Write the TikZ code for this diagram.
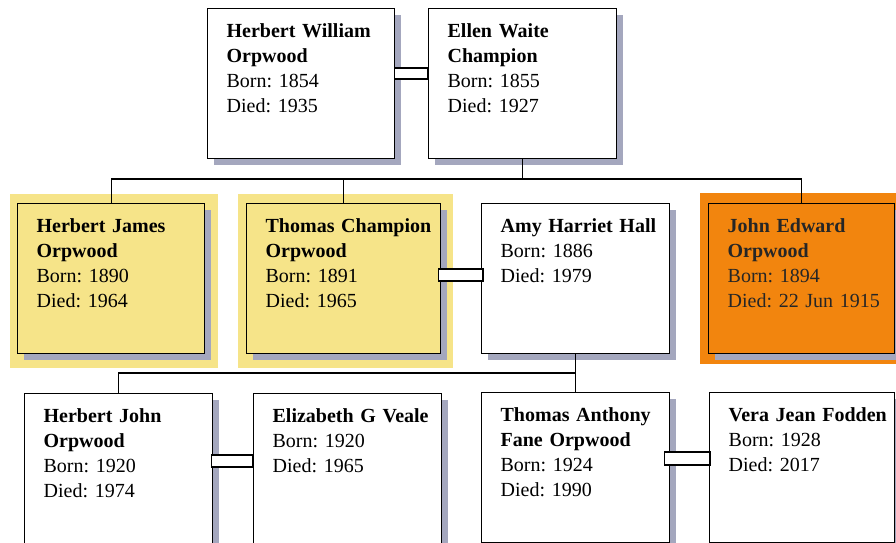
\documentclass[tikz,border=0pt]{standalone}
\usepackage{fontspec}
\setmainfont{Liberation Serif}
\usetikzlibrary{shadows,backgrounds}

\definecolor{shadowgray}{HTML}{A4A7BE}
\definecolor{hiyellow}{HTML}{F6E489}
\definecolor{hiorange}{HTML}{F2850E}

\newcommand\personfont{\fontsize{20pt}{25pt}\selectfont\frenchspacing}
\newcommand\inset{\leftskip=19pt\relax}

\tikzset{
  person/.style={rectangle, draw=black, line width=1.3pt, fill=white,
    inner sep=0pt, anchor=north west, text width=#1,
    text height=28.5pt, text depth=121.5pt, align=left, font=\personfont,
    drop shadow={shadow xshift=6.5pt, shadow yshift=-6.5pt,
      fill=shadowgray, opacity=1}},
  link/.style={draw=black, line width=1.2pt},
  spouse/.style={draw=black, fill=white, line width=1.2pt}
}

\begin{document}
\begin{tikzpicture}[x=1pt, y=-1pt]
\clip (0,0) rectangle (896,542);

% first generation
\node[person=187] (hwo) at (207,8)
  {\inset\textbf{Herbert William}\\\textbf{Orpwood}\\Born: 1854\\Died: 1935\par};
\node[person=188] (ewc) at (428,8)
  {\inset\textbf{Ellen Waite}\\\textbf{Champion}\\Born: 1855\\Died: 1927\par};

% second generation
\node[person=187, fill=hiyellow] (hjo) at (17,203)
  {\inset\textbf{Herbert James}\\\textbf{Orpwood}\\Born: 1890\\Died: 1964\par};
\node[person=194, fill=hiyellow] (tco) at (246,203)
  {\inset\textbf{Thomas Champion}\\\textbf{Orpwood}\\Born: 1891\\Died: 1965\par};
\node[person=188] (amy) at (481,203)
  {\inset\textbf{Amy Harriet Hall}\\Born: 1886\\Died: 1979\par};
\node[person=186, fill=hiorange, text=black!85] (jeo) at (708,203)
  {\inset\textbf{John Edward}\\\textbf{Orpwood}\\Born: 1894\\Died: 22 Jun 1915\par};

% third generation
\node[person=188] (hjo2) at (24,393)
  {\inset\textbf{Herbert John}\\\textbf{Orpwood}\\Born: 1920\\Died: 1974\par};
\node[person=188] (egv) at (253,393)
  {\inset\textbf{Elizabeth G Veale}\\Born: 1920\\Died: 1965\par};
\node[person=188] (tafo) at (481,392)
  {\inset\textbf{Thomas Anthony}\\\textbf{Fane Orpwood}\\Born: 1924\\Died: 1990\par};
\node[person=185] (vjf) at (709,392)
  {\inset\textbf{Vera Jean Fodden}\\Born: 1928\\Died: 2017\par};

% highlight panels behind selected people
\begin{scope}[on background layer]
  \fill[hiyellow] ([shift={(-7,-9)}]hjo.north west) rectangle ([shift={(13,14)}]hjo.south east);
  \fill[hiyellow] ([shift={(-8,-9)}]tco.north west) rectangle ([shift={(12,14)}]tco.south east);
  \fill[hiorange] ([shift={(-8,-10)}]jeo.north west) rectangle ([shift={(5,10)}]jeo.south east);
\end{scope}

% descent lines
\coordinate (gen2) at (0,179);
\coordinate (gen3) at (0,373);
\draw[link] (ewc.south) -- (ewc.south |- gen2);
\draw[link] (hjo.north) -- (hjo.north |- gen2) -- (jeo.north |- gen2) -- (jeo.north);
\draw[link] (tco.north) -- (tco.north |- gen2);
\draw[link] (amy.south) -- (tafo.north);
\draw[link] (hjo2.north) -- (hjo2.north |- gen3) -- (amy.south |- gen3);

% marriage bars
\draw[spouse] ([shift={(-1,60)}]hwo.north east) rectangle ([shift={(0,71)}]ewc.north west);
\draw[spouse] ([shift={(-3,66)}]tco.north east) rectangle ([shift={(2,78)}]amy.north west);
\draw[spouse] ([shift={(-2,62)}]hjo2.north east) rectangle ([shift={(0,74)}]egv.north west);
\draw[spouse] ([shift={(-6,60)}]tafo.north east) rectangle ([shift={(1,73)}]vjf.north west);
\end{tikzpicture}
\end{document}
